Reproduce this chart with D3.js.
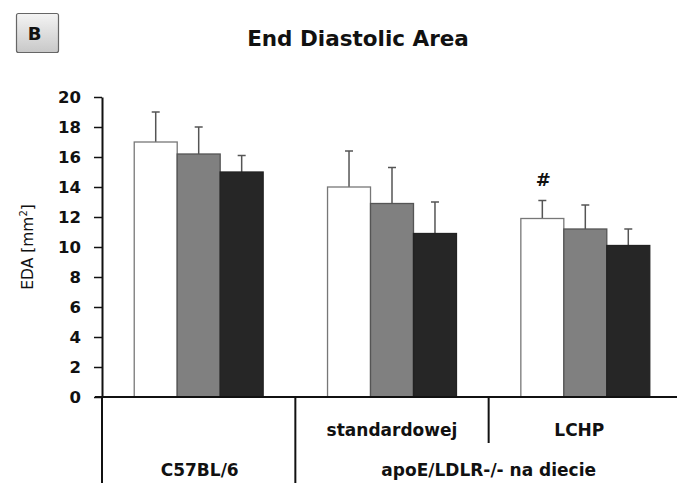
<!DOCTYPE html>
<html>
<head>
<meta charset="utf-8">
<script src="https://d3js.org/d3.v7.min.js"></script>
<style>
body { margin: 0; background: #fff; }
text { font-family: "DejaVu Sans", "Open Sans", sans-serif; }
</style>
</head>
<body>
<div id="chart"></div>
<script>
// data
var groups = ["C57BL/6", "standardowej", "LCHP"];
var series = ["s1", "s2", "s3"];
var means = [[17.0, 16.2, 15.0], [14.0, 12.9, 10.9], [11.9, 11.2, 10.1]];
var errors = [[2.0, 1.8, 1.1], [2.4, 2.4, 2.1], [1.2, 1.6, 1.1]];
var yTicks = [0, 2, 4, 6, 8, 10, 12, 14, 16, 18, 20];
var fills = ["#ffffff", "#808080", "#262626"];
var strokes = ["#777777", "#555555", "#222222"];

var W = 677, H = 483;
var svg = d3.select("#chart").append("svg")
    .attr("width", W).attr("height", H);

var x0 = d3.scaleBand().domain(groups).range([102, 682])
    .paddingInner(0.333).paddingOuter(0.1667);
var x1 = d3.scaleBand().domain(series).range([0, x0.bandwidth()]);
var y = d3.scaleLinear().domain([0, 20]).range([397, 97]);

// "B" box
var grad = svg.append("defs").append("linearGradient")
    .attr("id", "bgrad").attr("x1", 0).attr("y1", 0).attr("x2", 0).attr("y2", 1);
grad.append("stop").attr("offset", "0%").attr("stop-color", "#f4f4f4");
grad.append("stop").attr("offset", "100%").attr("stop-color", "#c8c8c8");
svg.append("rect").attr("x", 16.5).attr("y", 13.5).attr("width", 42).attr("height", 39)
    .attr("rx", 2).attr("fill", "url(#bgrad)").attr("stroke", "#666").attr("stroke-width", 1.2);
svg.append("text").attr("x", 34.5).attr("y", 40).attr("text-anchor", "middle")
    .style("font-size", "18px").style("font-weight", "bold").attr("fill", "#111").text("B");

// title
svg.append("text").attr("x", 358).attr("y", 46).attr("text-anchor", "middle")
    .style("font-size", "21.5px").style("font-weight", "bold").attr("fill", "#111")
    .text("End Diastolic Area");

// y axis
var yAxis = svg.append("g").attr("transform", "translate(102,0)")
    .call(d3.axisLeft(y).tickValues(yTicks).tickSize(8).tickPadding(13).tickSizeOuter(0));
yAxis.select(".domain").attr("stroke", "#111").attr("stroke-width", 2);
yAxis.selectAll(".tick line").attr("stroke", "#111").attr("stroke-width", 1.5);
yAxis.selectAll(".tick text").style("font-size", "16.5px").style("font-weight", "bold")
    .attr("fill", "#111").style("font-family", "'DejaVu Sans', sans-serif");

svg.append("text").attr("transform", "translate(33,247) rotate(-90)")
    .attr("text-anchor", "middle").style("font-size", "15.5px").attr("fill", "#111")
    .html("EDA [mm<tspan dy='-6' style='font-size:10px'>2</tspan><tspan dy='6'>]</tspan>");

// bars
var g = svg.append("g").selectAll("g").data(groups).enter().append("g")
    .attr("transform", function(d) { return "translate(" + x0(d) + ",0)"; });

g.each(function(gname, gi) {
    var sel = d3.select(this);
    series.forEach(function(s, si) {
        var v = means[gi][si], e = errors[gi][si];
        var cx = x1(s) + x1.bandwidth() / 2;
        sel.append("line").attr("x1", cx).attr("x2", cx)
            .attr("y1", y(v)).attr("y2", y(v + e))
            .attr("stroke", "#555").attr("stroke-width", 1.5);
        sel.append("line").attr("x1", cx - 4).attr("x2", cx + 4)
            .attr("y1", y(v + e)).attr("y2", y(v + e))
            .attr("stroke", "#555").attr("stroke-width", 1.5);
        sel.append("rect").attr("x", x1(s)).attr("y", y(v))
            .attr("width", x1.bandwidth()).attr("height", y(0) - y(v))
            .attr("fill", fills[si]).attr("stroke", strokes[si]).attr("stroke-width", 1.3);
    });
});

// significance mark
svg.append("text").attr("x", x0("LCHP") + x1("s1") + x1.bandwidth() / 2 + 1)
    .attr("y", y(means[2][0] + errors[2][0]) - 15)
    .attr("text-anchor", "middle").style("font-size", "18px").style("font-weight", "bold")
    .attr("fill", "#111").text("#");

// category table below the axis
var b1 = x0("C57BL/6") + x0.bandwidth() + x0.step() * x0.paddingInner() / 2;
var b2 = x0("standardowej") + x0.bandwidth() + x0.step() * x0.paddingInner() / 2;
var tbl = svg.append("g").attr("stroke", "#111");
tbl.append("line").attr("x1", 95).attr("x2", W).attr("y1", 397).attr("y2", 397).attr("stroke-width", 2);
tbl.append("line").attr("x1", 102).attr("x2", 102).attr("y1", 397).attr("y2", H).attr("stroke-width", 2);
tbl.append("line").attr("x1", b1).attr("x2", b1).attr("y1", 397).attr("y2", H).attr("stroke-width", 2);
tbl.append("line").attr("x1", b2).attr("x2", b2).attr("y1", 397).attr("y2", 443).attr("stroke-width", 2);

function label(t, xx, yy) {
    svg.append("text").attr("x", xx).attr("y", yy).attr("text-anchor", "middle")
        .style("font-size", "17px").style("font-weight", "bold").attr("fill", "#111").text(t);
}
label("standardowej", x0("standardowej") + x0.bandwidth() / 2, 436);
label("LCHP", x0("LCHP") + x0.bandwidth() / 2 - 6, 436);
label("C57BL/6", x0("C57BL/6") + x0.bandwidth() / 2 + 1, 476);
label("apoE/LDLR-/- na diecie", (b1 + 682) / 2, 476);
</script>
</body>
</html>
